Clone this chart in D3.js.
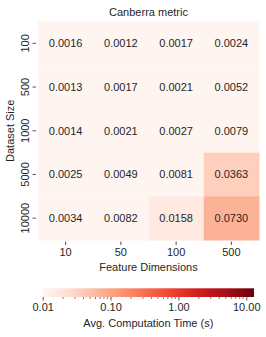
<!DOCTYPE html>
<html>
<head>
<meta charset="utf-8">
<script src="https://cdn.jsdelivr.net/npm/d3@7"></script>
<style>
  body { margin: 0; background: #fff; }
  svg text { font-family: "Liberation Sans", Arial, Helvetica, sans-serif; fill: #262626; }
</style>
</head>
<body>
<svg id="chart" width="266" height="337"></svg>
<script>
const sizes = ['100', '500', '1000', '5000', '10000'];
const dims = ['10', '50', '100', '500'];
const times = [
  [0.0016, 0.0012, 0.0017, 0.0024],
  [0.0013, 0.0017, 0.0021, 0.0052],
  [0.0014, 0.0021, 0.0027, 0.0079],
  [0.0025, 0.0049, 0.0081, 0.0363],
  [0.0034, 0.0082, 0.0158, 0.0730]
];
const colorDomain = [0.01, 13];
const cbarTicks = [0.01, 0.1, 1, 10];

const svg = d3.select('#chart');
const hmLeft = 38, hmRight = 259, hmTop = 21.5, hmBottom = 240;

const x = d3.scaleBand().domain(dims).range([hmLeft, hmRight]);
const y = d3.scaleBand().domain(sizes).range([hmTop, hmBottom]);
const logc = d3.scaleLog().domain(colorDomain).range([0, 1]).clamp(true);
const color = v => d3.interpolateReds(logc(v));

const cells = [];
times.forEach((row, i) => row.forEach((v, j) => cells.push({ size: sizes[i], dim: dims[j], v })));

const g = svg.append('g');
g.selectAll('rect')
  .data(cells)
  .enter()
  .append('rect')
  .attr('x', d => x(d.dim))
  .attr('y', d => y(d.size))
  .attr('width', x.bandwidth() + 0.5)
  .attr('height', y.bandwidth() + 0.5)
  .attr('fill', d => color(d.v));

g.selectAll('text.annot')
  .data(cells)
  .enter()
  .append('text')
  .attr('class', 'annot')
  .attr('x', d => x(d.dim) + x.bandwidth() / 2)
  .attr('y', d => y(d.size) + y.bandwidth() / 2)
  .attr('dy', '0.35em')
  .attr('text-anchor', 'middle')
  .style('font-size', '11px')
  .text(d => d.v.toFixed(4));

// axes
const xAxis = svg.append('g')
  .attr('transform', `translate(0,${hmBottom + 1.5})`)
  .call(d3.axisBottom(x).tickSize(3.5).tickPadding(3));
const yAxis = svg.append('g')
  .attr('transform', `translate(${hmLeft - 2},0)`)
  .call(d3.axisLeft(y).tickSize(3.5).tickPadding(3));
[xAxis, yAxis].forEach(a => {
  a.select('.domain').remove();
  a.selectAll('line').attr('stroke', '#262626').attr('stroke-width', 0.8);
  a.selectAll('text').style('font-size', '11px').attr('fill', '#262626');
});
yAxis.selectAll('.tick text')
  .attr('transform', 'rotate(-90)')
  .attr('x', 0)
  .attr('y', -7.5)
  .attr('dy', 0)
  .attr('text-anchor', 'middle');

svg.append('text')
  .attr('x', (hmLeft + hmRight) / 2)
  .attr('y', 16)
  .attr('text-anchor', 'middle')
  .style('font-size', '11px')
  .text('Canberra metric');

svg.append('text')
  .attr('x', (hmLeft + hmRight) / 2)
  .attr('y', 271)
  .attr('text-anchor', 'middle')
  .style('font-size', '11px')
  .text('Feature Dimensions');

svg.append('text')
  .attr('transform', `translate(14,${(hmTop + hmBottom) / 2}) rotate(-90)`)
  .attr('text-anchor', 'middle')
  .style('font-size', '11px')
  .text('Dataset Size');

// colorbar
const cbL = 42.7, cbR = 254, cbT = 288.3, cbB = 297;
const cx = d3.scaleLog().domain(colorDomain).range([cbL, cbR]);
const defs = svg.append('defs');
const grad = defs.append('linearGradient').attr('id', 'cbgrad');
d3.range(0, 1.0001, 0.05).forEach(t => {
  grad.append('stop').attr('offset', t).attr('stop-color', d3.interpolateReds(t));
});
svg.append('rect')
  .attr('x', cbL).attr('y', cbT)
  .attr('width', cbR - cbL).attr('height', cbB - cbT)
  .attr('fill', 'url(#cbgrad)');

const minor = [];
[0.01, 0.1, 1, 10].forEach(dec => {
  for (let k = 2; k <= 9; k++) {
    const v = dec * k;
    if (v <= colorDomain[1]) minor.push(v);
  }
});
svg.append('g').selectAll('line')
  .data(minor)
  .enter()
  .append('line')
  .attr('x1', d => cx(d)).attr('x2', d => cx(d))
  .attr('y1', cbB).attr('y2', cbB + 2)
  .attr('stroke', '#262626').attr('stroke-width', 0.6);

const cbAxis = svg.append('g')
  .attr('transform', `translate(0,${cbB})`)
  .call(d3.axisBottom(cx).tickValues(cbarTicks).tickFormat(d3.format('.2f')).tickSize(3.5).tickPadding(3));
cbAxis.select('.domain').remove();
cbAxis.selectAll('line').attr('stroke', '#262626').attr('stroke-width', 0.8);
cbAxis.selectAll('text').style('font-size', '11px').attr('fill', '#262626');

svg.append('text')
  .attr('x', (cbL + cbR) / 2)
  .attr('y', 327)
  .attr('text-anchor', 'middle')
  .style('font-size', '11px')
  .text('Avg. Computation Time (s)');
</script>
</body>
</html>
